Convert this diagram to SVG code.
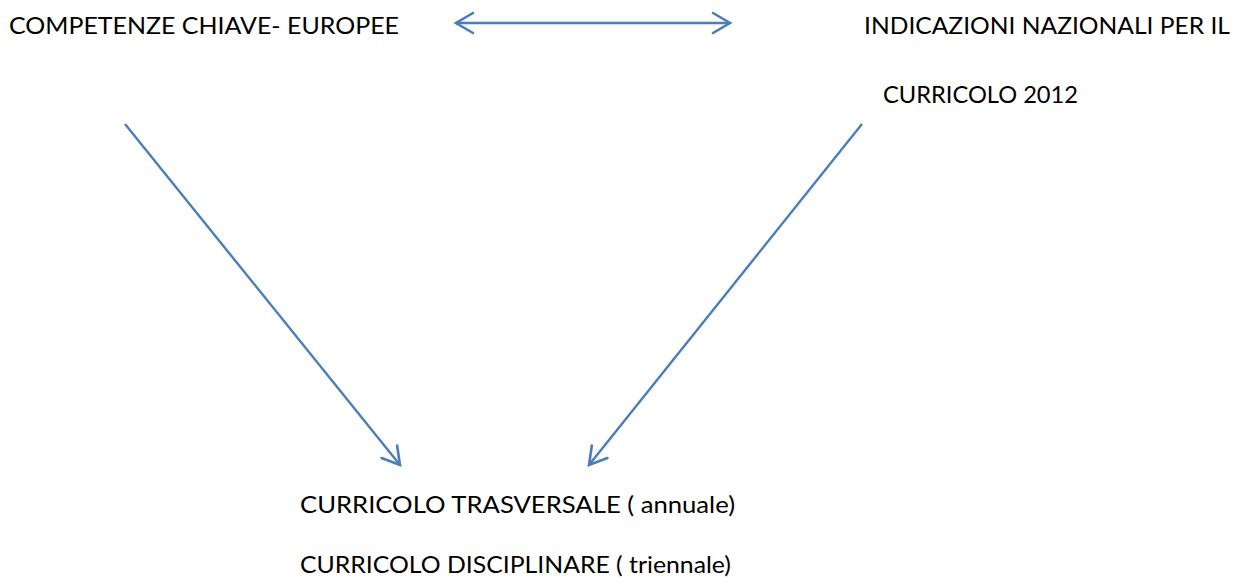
<svg xmlns="http://www.w3.org/2000/svg" width="1252" height="586" viewBox="0 0 1252 586">
<style>
.t{font-family:Lato,"Open Sans","Liberation Sans",sans-serif;font-size:23px;fill:#000}
.c{stroke:#4a7ebb;stroke-width:2.4;fill:none}
</style>
<defs>
<marker id="ah" markerUnits="userSpaceOnUse" viewBox="-22 -13 26 26" markerWidth="26" markerHeight="26" refX="0" refY="0" orient="auto-start-reverse">
<path d="M-17,-10 L0,0 L-17,10" fill="none" stroke="#4a7ebb" stroke-width="2.6" stroke-linecap="round" stroke-linejoin="miter"/>
</marker>
</defs>
<rect width="1252" height="586" fill="#fff"/>
<g id="competenze"><text class="t" x="9" y="34" textLength="390" lengthAdjust="spacingAndGlyphs">COMPETENZE CHIAVE- EUROPEE</text></g>
<g id="indicazioni">
<text class="t" x="864" y="34" textLength="366" lengthAdjust="spacingAndGlyphs">INDICAZIONI NAZIONALI PER IL</text>
<text class="t" x="883" y="103" textLength="195" lengthAdjust="spacingAndGlyphs">CURRICOLO 2012</text>
</g>
<g id="curricolo">
<text class="t" x="300" y="513" textLength="435" lengthAdjust="spacingAndGlyphs">CURRICOLO TRASVERSALE ( annuale)</text>
<text class="t" x="300" y="573" textLength="431" lengthAdjust="spacingAndGlyphs">CURRICOLO DISCIPLINARE ( triennale)</text>
</g>
<g id="connectors">
<line class="c" x1="456" y1="23" x2="730" y2="23" marker-start="url(#ah)" marker-end="url(#ah)"/>
<line class="c" x1="125" y1="124" x2="400" y2="465" marker-end="url(#ah)"/>
<line class="c" x1="862" y1="124" x2="589" y2="465" marker-end="url(#ah)"/>
</g>
</svg>
